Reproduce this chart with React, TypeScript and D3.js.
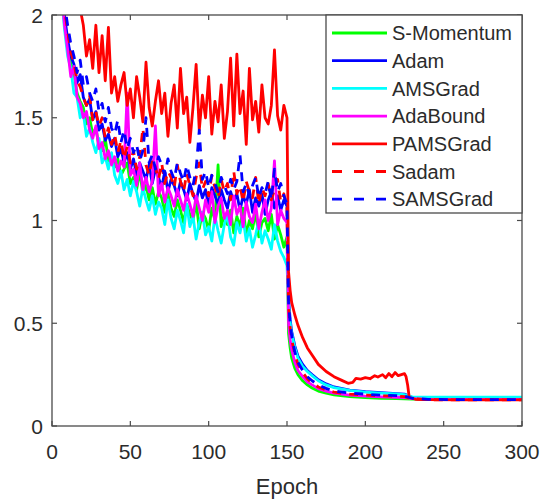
import React from "react";
import * as d3 from "d3";

const SERIES_NAMES = ["S-Momentum", "Adam", "AMSGrad", "AdaBound", "PAMSGrad", "Sadam", "SAMSGrad"];
const X_TICKS = [0, 50, 100, 150, 200, 250, 300];
const Y_TICKS = [0, 0.5, 1, 1.5, 2];
const X_TICK_LABELS = ["0", "50", "100", "150", "200", "250", "300"];
const Y_TICK_LABELS = ["0", "0.5", "1", "1.5", "2"];

// epochs of the noisy phase (every 2 epochs)
const PHASE1_EPOCHS = [2,4,6,8,10,12,14,16,18,20,22,24,26,28,30,32,34,36,38,40,42,44,46,48,50,52,54,56,58,60,62,64,66,68,70,72,74,76,78,80,82,84,86,88,90,92,94,96,98,100,102,104,106,108,110,112,114,116,118,120,122,124,126,128,130,132,134,136,138,140,142,144,146,148,150];
const PHASE2_EPOCHS = [151,152,153,155,157,160,163,166,170,175,180,190,200,210,220,225,230,240,260,300];
const PAMS_PHASE2_EPOCHS = [151,152,153,155,157,160,163,166,170,175,180,185,189,192,194,197,200,203,206,208,211,213,215,217,219,221,223,225,226,227,228,232,240,260,300];

const sMomentum1 = [2.6,2.35,2.15,1.97,1.86,1.76,1.72,1.62,1.58,1.55,
  1.47,1.50,1.42,1.45,1.36,1.34,1.40,1.29,1.32,1.26,
  1.30,1.22,1.25,1.28,1.18,1.21,1.15,1.24,1.13,1.17,
  1.10,1.16,1.08,1.14,1.11,1.04,1.13,1.06,1.02,1.10,
  1.05,0.99,1.08,1.03,1.00,1.09,0.96,1.04,1.01,0.95,
  1.06,1.00,1.27,0.97,1.03,0.98,1.05,0.94,1.02,0.97,
  1.06,0.93,1.00,0.96,1.04,0.92,0.99,1.01,0.95,1.03,
  0.91,0.98,0.93,0.87,0.92];
const sMomentum2 = [0.45,0.38,0.33,0.28,0.25,0.22,0.20,0.185,0.17,0.16,0.152,0.143,0.138,0.135,0.133,0.132,0.131,0.13,0.13,0.13];

const adam1 = [2.62,2.38,2.18,2.0,1.88,1.80,1.76,1.67,1.71,1.60,
  1.56,1.59,1.49,1.53,1.44,1.47,1.39,1.42,1.36,1.40,
  1.31,1.35,1.28,1.33,1.25,1.30,1.22,1.28,1.24,1.20,
  1.27,1.18,1.25,1.21,1.16,1.24,1.14,1.20,1.17,1.12,
  1.19,1.15,1.10,1.18,1.13,1.09,1.17,1.11,1.15,1.07,
  1.16,1.12,1.08,1.15,1.10,1.06,1.14,1.09,1.13,1.05,
  1.12,1.08,1.15,1.04,1.11,1.07,1.13,1.03,1.10,1.14,
  1.06,1.12,1.05,1.10,1.07];
const adam2 = [0.62,0.52,0.46,0.39,0.34,0.30,0.27,0.25,0.225,0.205,0.19,0.175,0.167,0.162,0.158,0.155,0.138,0.135,0.135,0.135];

const amsgrad1 = [2.55,2.3,2.1,1.93,1.80,1.74,1.62,1.60,1.50,1.52,
  1.41,1.45,1.38,1.33,1.40,1.28,1.31,1.25,1.33,1.22,
  1.18,1.24,1.15,1.20,1.12,1.19,1.14,1.07,1.16,1.10,
  1.05,1.12,1.03,1.09,1.06,0.98,1.10,1.01,0.96,1.05,
  1.00,0.94,1.08,0.97,1.02,0.91,0.99,1.04,0.93,0.97,
  0.90,1.02,0.95,0.89,0.98,1.03,0.92,0.88,0.99,0.94,
  1.01,0.90,0.96,0.87,0.93,1.00,0.89,0.95,0.91,0.86,
  0.98,0.90,0.85,0.82,0.78];
const amsgrad2 = [0.60,0.50,0.45,0.38,0.33,0.29,0.265,0.245,0.22,0.20,0.187,0.173,0.165,0.16,0.156,0.153,0.142,0.14,0.14,0.14];

const adabound1 = [2.6,2.32,2.12,1.95,1.83,1.70,1.75,1.60,1.57,1.50,
  1.53,1.44,1.40,1.46,1.35,1.38,1.30,1.34,1.27,1.31,
  1.24,1.29,1.26,1.62,1.22,1.25,1.17,1.28,1.15,1.21,
  1.14,1.19,1.46,1.12,1.18,1.09,1.16,1.12,1.07,1.15,
  1.10,1.05,1.13,1.08,1.02,1.12,1.06,1.00,1.10,1.04,
  1.14,0.99,1.07,1.11,1.01,1.05,0.98,1.12,1.03,1.07,
  0.97,1.09,1.02,0.99,1.08,0.96,1.04,1.10,1.00,1.06,
  1.29,0.98,1.05,1.01,0.99];
const adabound2 = [0.50,0.42,0.37,0.31,0.27,0.24,0.215,0.20,0.182,0.17,0.16,0.15,0.145,0.142,0.14,0.138,0.133,0.13,0.13,0.13];

const pamsgrad1 = [2.9,2.75,2.6,2.48,2.38,2.28,2.2,2.12,2.03,1.95,
  1.80,1.88,1.74,1.95,1.72,1.90,1.68,1.94,1.62,1.70,
  1.58,1.66,1.72,1.56,1.64,1.50,1.70,1.60,1.48,1.77,
  1.55,1.46,1.58,1.68,1.52,1.62,1.41,1.57,1.66,1.45,
  1.74,1.52,1.60,1.38,1.55,1.76,1.44,1.61,1.50,1.70,
  1.42,1.58,1.48,1.66,1.40,1.53,1.79,1.46,1.81,1.52,
  1.63,1.37,1.74,1.49,1.58,1.43,1.66,1.50,1.47,1.56,
  1.83,1.51,1.44,1.56,1.50];
const pamsgrad2 = [0.75,0.66,0.60,0.54,0.49,0.43,0.38,0.345,0.30,0.265,0.24,0.222,0.208,0.212,0.232,0.228,0.235,0.23,0.245,0.238,0.25,0.235,0.255,0.24,0.26,0.245,0.25,0.255,0.24,0.20,0.14,0.13,0.128,0.127,0.127];

const sadam1 = [2.65,2.4,2.2,2.03,1.92,1.82,1.77,1.68,1.65,1.60,
  1.56,1.61,1.49,1.53,1.46,1.50,1.40,1.45,1.37,1.42,
  1.33,1.39,1.30,1.36,1.28,1.34,1.25,1.31,1.45,1.27,
  1.22,1.30,1.26,1.20,1.28,1.18,1.24,1.21,1.16,1.27,
  1.19,1.14,1.23,1.17,1.12,1.21,1.28,1.15,1.19,1.12,
  1.22,1.16,1.11,1.20,1.14,1.18,1.10,1.24,1.13,1.17,
  1.09,1.19,1.14,1.11,1.21,1.08,1.16,1.12,1.18,1.10,
  1.15,1.20,1.09,1.13,1.06];
const sadam2 = [0.58,0.48,0.42,0.35,0.30,0.26,0.23,0.21,0.19,0.175,0.165,0.155,0.15,0.147,0.145,0.143,0.133,0.128,0.127,0.127];

const samsgrad1 = [2.65,2.42,2.22,2.05,1.95,1.86,1.80,1.72,1.78,1.66,
  1.70,1.62,1.58,1.64,1.53,1.57,1.48,1.55,1.45,1.42,
  1.49,1.38,1.44,1.35,1.40,1.33,1.37,1.29,1.34,1.50,
  1.28,1.32,1.25,1.31,1.27,1.22,1.30,1.24,1.20,1.28,
  1.23,1.19,1.27,1.21,1.17,1.25,1.44,1.20,1.24,1.16,
  1.22,1.18,1.14,1.21,1.17,1.13,1.20,1.15,1.19,1.32,
  1.14,1.18,1.12,1.17,1.21,1.11,1.16,1.13,1.19,1.10,
  1.25,1.14,1.18,1.12,1.08];
const samsgrad2 = [0.60,0.50,0.44,0.36,0.31,0.27,0.24,0.22,0.20,0.183,0.17,0.16,0.155,0.15,0.148,0.145,0.135,0.13,0.128,0.128];

const COLORS = ["#00ff00", "#0000ff", "#00ffff", "#ff00ff", "#ff0000", "#ff0000", "#0000ff"];
const DASHED = [false, false, false, false, false, true, true];

const W = 544, H = 502;
const L = 52, R = 522, T = 15, B = 426;

function build(p1: number[], p2: number[], e2: number[]) {
  const pts: [number, number][] = [];
  PHASE1_EPOCHS.forEach((e, i) => pts.push([e, p1[i]]));
  e2.forEach((e, i) => pts.push([e, p2[i]]));
  return pts;
}

export default function App() {
  const x = d3.scaleLinear().domain([0, 300]).range([L, R]);
  const y = d3.scaleLinear().domain([0, 2]).range([B, T]);
  const line = d3.line<[number, number]>().x(d => x(d[0])).y(d => y(d[1])).curve(d3.curveLinear);

  const data = [
    build(sMomentum1, sMomentum2, PHASE2_EPOCHS),
    build(adam1, adam2, PHASE2_EPOCHS),
    build(amsgrad1, amsgrad2, PHASE2_EPOCHS),
    build(adabound1, adabound2, PHASE2_EPOCHS),
    build(pamsgrad1, pamsgrad2, PAMS_PHASE2_EPOCHS),
    build(sadam1, sadam2, PHASE2_EPOCHS),
    build(samsgrad1, samsgrad2, PHASE2_EPOCHS),
  ];

  const axisColor = "#4a4a4a";
  const textColor = "#2b2b2b";
  const font = "'Liberation Sans', Arial, Helvetica, sans-serif";
  const tickLen = 5;

  const legX = 326, legY = T, legW = R - 326, legH = 198;
  const legRow0 = 33, legStep = 27.7;

  return (
    <svg width={W} height={H} style={{ position: "absolute", left: 0, top: 0, background: "#fff" }} fontFamily={font}>
      <rect x={0} y={0} width={W} height={H} fill="#fff" />
      <defs>
        <clipPath id="plotclip">
          <rect x={L} y={T} width={R - L} height={B - T} />
        </clipPath>
      </defs>
      <g clipPath="url(#plotclip)">
        {data.map((d, i) => (
          <path key={i} d={line(d) || ""} fill="none" stroke={COLORS[i]} strokeWidth={2.8}
            strokeDasharray={DASHED[i] ? "9,8" : undefined} strokeLinejoin="round" />
        ))}
      </g>
      <rect x={L} y={T} width={R - L} height={B - T} fill="none" stroke={axisColor} strokeWidth={1.3} />
      {X_TICKS.map((t, i) => (
        <g key={"xt" + i}>
          <line x1={x(t)} x2={x(t)} y1={B} y2={B - tickLen} stroke={axisColor} strokeWidth={1.2} />
          <line x1={x(t)} x2={x(t)} y1={T} y2={T + tickLen} stroke={axisColor} strokeWidth={1.2} />
          <text x={x(t)} y={B + 33} textAnchor="middle" fontSize={21} fill={textColor}>{X_TICK_LABELS[i]}</text>
        </g>
      ))}
      {Y_TICKS.map((t, i) => (
        <g key={"yt" + i}>
          <line x1={L} x2={L + tickLen} y1={y(t)} y2={y(t)} stroke={axisColor} strokeWidth={1.2} />
          <line x1={R} x2={R - tickLen} y1={y(t)} y2={y(t)} stroke={axisColor} strokeWidth={1.2} />
          <text x={43} y={y(t)} dy="0.36em" textAnchor="end" fontSize={21} fill={textColor}>{Y_TICK_LABELS[i]}</text>
        </g>
      ))}
      <text x={x(150)} y={494} textAnchor="middle" fontSize={22} fill={textColor}>Epoch</text>
      <rect x={legX} y={legY} width={legW} height={legH} fill="#fff" stroke={axisColor} strokeWidth={1.3} />
      {SERIES_NAMES.map((n, i) => {
        const cy = legRow0 + i * legStep;
        return (
          <g key={"lg" + i}>
            <line x1={332} x2={387} y1={cy} y2={cy} stroke={COLORS[i]} strokeWidth={2.8}
              strokeDasharray={DASHED[i] ? "10,12" : undefined} />
            <text x={392} y={cy} dy="0.36em" fontSize={20} fill={textColor}>{n}</text>
          </g>
        );
      })}
    </svg>
  );
}
